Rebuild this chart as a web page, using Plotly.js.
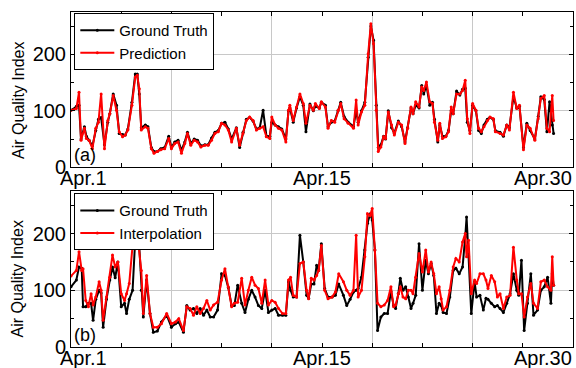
<!DOCTYPE html>
<html>
<head>
<meta charset="utf-8">
<script src="https://cdn.plot.ly/plotly-3.0.1.min.js"></script>
<style>html,body{margin:0;padding:0;background:#fff}#chart{width:576px;height:368px}</style>
</head>
<body>
<div id="chart"></div>
<script>
// ---- data (hours since Apr.1 00:00, AQI values) ----
var topHours = [0,8,12,15,20,23,27,32,37,41,45,50,55,58,63,68,72,77,81,85,91,96,99,102,105,111,115,120,124,129,134,140,146,150,155,160,165,170,174,179,184,189,194,200,205,210,215,220,225,230,235,240,247,252,257,262,267,272,277,282,287,292,297,300,305,310,315,321,325,327,332,337,342,347,351,357,362,365,371,374,380,384,389,394,399,403,408,414,422,426,429,434,439,444,448,452,456,459,463,467,470,474,479,483,489,494,499,503,508,511,515,520,524,527,531,536,540,543,548,551,555,560,564,568,571,576,581,585,589,592,596,600,605,609,613,617,622,626,631,634,641,646,651,655,661,666,670,676,681,686,693,698,702,707,711,715,719,721];
var topPred = [101,104,133,48,69,51,48,33,69,80,130,33,83,95,127,101,63,54,57,66,110,160,163,139,66,72,69,33,25,28,31,33,51,33,42,45,25,42,60,39,48,45,36,39,39,48,60,63,78,75,66,45,69,39,60,83,89,83,66,69,72,54,51,89,75,69,66,45,101,110,83,107,130,113,78,110,101,113,104,116,107,69,83,80,101,113,86,78,69,119,75,98,110,201,254,219,101,28,36,54,51,98,75,57,80,75,42,69,107,95,116,107,142,136,151,116,113,80,48,78,51,54,63,107,95,130,130,136,154,86,60,113,101,69,63,72,83,89,86,63,60,57,75,66,133,104,110,31,75,69,48,86,122,127,69,63,127,83];
var topTruth = [101,108,110,50,72,55,48,38,65,85,88,40,80,95,130,110,60,58,57,68,115,165,165,130,70,75,72,35,28,28,33,35,55,35,45,48,30,45,62,42,50,48,38,40,40,52,62,65,78,80,68,50,70,35,62,85,88,82,68,70,101,55,55,80,75,72,68,50,100,105,80,105,125,110,63,112,100,108,105,115,110,72,80,82,100,115,90,80,72,100,80,100,115,195,250,225,110,35,40,55,50,100,70,60,82,72,45,70,105,95,110,105,145,130,145,110,115,85,45,75,55,55,65,100,95,135,128,138,140,80,65,110,100,65,60,75,85,88,85,65,62,55,75,70,125,105,108,35,78,65,50,90,125,120,63,116,75,60];

var botHours = [0,8,12,16,18,22,26,30,33,37,42,45,48,53,58,62,66,70,75,80,83,87,92,96,101,105,108,113,118,123,129,135,143,150,156,161,168,173,178,183,188,193,198,203,208,213,219,225,230,235,240,244,249,255,260,265,270,275,280,285,290,295,300,305,310,316,321,325,328,332,337,342,347,352,355,359,363,367,370,374,379,384,390,395,400,407,412,417,422,426,429,434,439,443,447,450,454,458,463,468,473,478,482,485,489,492,496,500,504,508,511,515,520,525,530,534,538,542,546,550,553,556,561,566,571,575,580,585,589,591,594,598,603,606,611,616,620,623,628,633,637,641,646,651,656,661,666,669,673,677,682,687,691,697,702,707,712,717,719,721];
var botInterp = [125,135,168,135,138,82,71,94,74,88,115,100,47,88,123,162,141,150,94,82,94,112,179,173,179,135,59,126,59,35,35,41,59,41,44,50,29,71,68,56,71,59,68,82,65,74,79,118,138,106,71,77,79,121,74,100,123,109,103,77,118,74,82,79,68,59,59,118,123,91,88,147,150,100,85,121,118,126,135,179,100,85,88,97,129,115,100,91,100,197,88,100,159,235,232,244,171,77,71,74,82,106,71,74,94,106,88,85,100,100,94,123,165,132,171,132,150,129,94,106,85,65,71,100,141,156,150,185,200,159,188,94,118,112,129,129,118,103,126,115,88,94,68,88,91,176,118,94,94,53,88,112,77,68,115,118,106,100,159,109];
var botTruth = [106,118,141,139,71,71,77,77,47,84,100,95,35,84,118,141,122,150,71,77,59,84,100,191,197,100,53,118,59,26,28,44,56,35,41,44,26,73,65,68,59,68,56,65,53,53,65,129,126,105,73,73,109,77,61,84,100,88,73,68,100,61,65,68,56,56,56,115,100,88,88,197,150,91,86,111,111,144,135,182,103,88,88,91,111,91,73,84,97,100,103,123,171,218,235,224,171,29,53,59,59,98,73,68,94,121,100,106,88,68,77,91,182,100,153,129,147,126,59,77,73,61,59,88,135,139,129,141,194,229,159,59,115,88,91,65,86,84,77,71,73,68,61,77,94,129,100,91,153,29,77,129,56,65,100,106,123,77,129,109];

var tickHours = [18, 375, 705];
var tickLabels = ['Apr.1', 'Apr.15', 'Apr.30'];
var seriesNames = {truth: 'Ground Truth', top: 'Prediction', bottom: 'Interpolation'};
var panelLabels = ['(a)', '(b)'];
var yTitle = 'Air Quality Index';

// ---- layout constants ----
var FONT = 'Liberation Sans, Arial, sans-serif';
var topDomain = [0.5364, 1];
var botDomain = [0, 0.4657];

function tr(x, y, name, color, xa, ya, lg) {
  return {x: x, y: y, name: name, type: 'scatter', mode: 'lines+markers',
    xaxis: xa, yaxis: ya, legend: lg,
    line: {color: color, width: 2}, marker: {color: color, size: 3}};
}
var traces = [
  tr(topHours, topTruth, seriesNames.truth, '#000000', 'x', 'y', 'legend'),
  tr(topHours, topPred, seriesNames.top, '#ff0000', 'x', 'y', 'legend'),
  tr(botHours, botTruth, seriesNames.truth, '#000000', 'x2', 'y2', 'legend2'),
  tr(botHours, botInterp, seriesNames.bottom, '#ff0000', 'x2', 'y2', 'legend2')
];

function xax(anchor) {
  return {anchor: anchor, domain: [0, 1], range: [0, 750], tickmode: 'linear', tick0: 0, dtick: 150,
    showticklabels: false, ticks: 'inside', ticklen: 4, tickcolor: '#000',
    showgrid: true, gridcolor: '#c8c8c8', gridwidth: 1,
    showline: true, linecolor: '#000', linewidth: 1, mirror: 'ticks', zeroline: false,
    minor: {tickmode: 'linear', tick0: 0, dtick: 75, ticks: 'inside', ticklen: 4, tickcolor: '#000', showgrid: false}};
}
function yax(anchor, dom) {
  return {anchor: anchor, domain: dom, range: [0, 275], tickmode: 'linear', tick0: 0, dtick: 100,
    ticks: 'inside', ticklen: 4, tickcolor: '#000', tickfont: {size: 20, color: '#000', family: FONT},
    showgrid: true, gridcolor: '#c8c8c8', gridwidth: 1,
    showline: true, linecolor: '#000', linewidth: 1, mirror: 'ticks', zeroline: false,
    minor: {tickmode: 'linear', tick0: 0, dtick: 50, ticks: 'inside', ticklen: 3, tickcolor: '#000', showgrid: false}};
}

var annotations = [];
[['x', topDomain[0]], ['x2', botDomain[0]]].forEach(function (p) {
  for (var i = 0; i < tickLabels.length; i++) {
    annotations.push({x: tickHours[i], xref: p[0], y: p[1], yref: 'paper', yanchor: 'top', xanchor: 'center', yshift: 2,
      text: tickLabels[i], showarrow: false, font: {size: 20, color: '#000', family: FONT}});
  }
});
annotations.push({x: 0.001, xref: 'paper', y: topDomain[0], yref: 'paper', xanchor: 'left', yanchor: 'bottom',
  text: panelLabels[0], showarrow: false, font: {size: 18, color: '#000', family: FONT}});
annotations.push({x: 0.001, xref: 'paper', y: botDomain[0], yref: 'paper', xanchor: 'left', yanchor: 'bottom',
  text: panelLabels[1], showarrow: false, font: {size: 18, color: '#000', family: FONT}});
annotations.push({x: -0.1046, xref: 'paper', y: 0.736, yref: 'paper', textangle: -90, xanchor: 'center', yanchor: 'middle',
  text: yTitle, showarrow: false, font: {size: 16, color: '#000', family: FONT}});
annotations.push({x: -0.1046, xref: 'paper', y: 0.203, yref: 'paper', textangle: -90, xanchor: 'center', yanchor: 'middle',
  text: yTitle, showarrow: false, font: {size: 16, color: '#000', family: FONT}});

function leg(y) {
  return {x: 0.0066, y: y, xanchor: 'left', yanchor: 'top', bgcolor: '#fff', bordercolor: '#000', borderwidth: 1,
    font: {size: 15, color: '#000', family: FONT}, tracegroupgap: 0, itemwidth: 34};
}

var layout = {
  width: 576, height: 368,
  margin: {l: 71, r: 3, t: 12, b: 21},
  paper_bgcolor: '#fff', plot_bgcolor: '#fff',
  font: {family: FONT, color: '#000'},
  showlegend: true,
  xaxis: xax('y'), yaxis: yax('x', topDomain),
  xaxis2: xax('y2'), yaxis2: yax('x2', botDomain),
  legend: leg(0.997), legend2: leg(0.4588),
  annotations: annotations
};

Plotly.newPlot('chart', traces, layout, {displayModeBar: false, staticPlot: true});
</script>
</body>
</html>
